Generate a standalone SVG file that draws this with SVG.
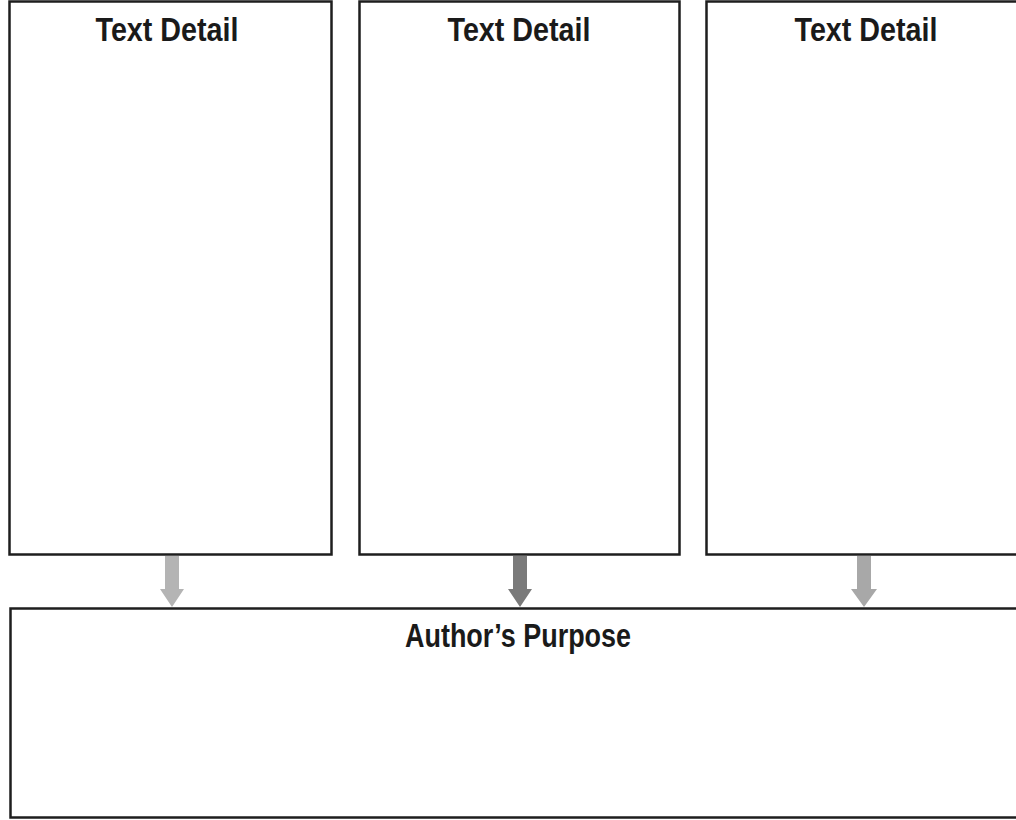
<svg xmlns="http://www.w3.org/2000/svg" width="1016" height="820" viewBox="0 0 1016 820">
<style>
.box{fill:#fff;stroke:#1e1e1e;stroke-width:2.5}
.lbl{font-family:"Liberation Sans Narrow","Liberation Sans",Arial,sans-serif;font-weight:bold;font-size:33px;fill:#1a1a1a;text-anchor:middle}
.arr{stroke:none}
</style>
<rect width="1016" height="820" fill="#fff"/>
<g id="detail1">
<rect class="box" x="9.5" y="1.5" width="322" height="553"/>
<text class="lbl" x="167" y="41" textLength="143" lengthAdjust="spacingAndGlyphs">Text Detail</text>
</g>
<g id="detail2">
<rect class="box" x="359.5" y="1.5" width="320" height="553"/>
<text class="lbl" x="519" y="41" textLength="143" lengthAdjust="spacingAndGlyphs">Text Detail</text>
</g>
<g id="detail3">
<rect class="box" x="706.5" y="1.5" width="330" height="553"/>
<text class="lbl" x="866" y="41" textLength="143" lengthAdjust="spacingAndGlyphs">Text Detail</text>
</g>
<g id="purpose">
<rect class="box" x="10.5" y="608.5" width="1030" height="209"/>
<text class="lbl" x="518" y="647" textLength="226" lengthAdjust="spacingAndGlyphs">Author’s Purpose</text>
</g>
<g id="connectors">
<path class="arr" fill="#b4b4b4" d="M165 556 H179 V589 H184 L172 607 L160 589 H165 Z"/>
<path class="arr" fill="#7a7a7a" d="M513 556 H527 V589 H532 L520 607 L508 589 H513 Z"/>
<path class="arr" fill="#a8a8a8" d="M857 556 H871 V589 H877 L864 607 L851 589 H857 Z"/>
</g>
</svg>
